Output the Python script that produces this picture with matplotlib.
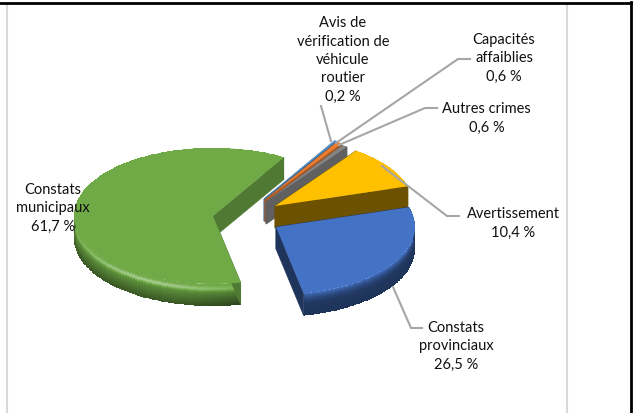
import numpy as np
import matplotlib
matplotlib.use('Agg')
import matplotlib.pyplot as plt
from matplotlib.colors import to_rgb

categories = ['Constats\nmunicipaux', 'Avis de\nvérification de\nvéhicule\nroutier',
              'Capacités\naffaiblies', 'Autres crimes', 'Avertissement',
              'Constats\nprovinciaux']
values = [61.7, 0.2, 0.6, 0.6, 10.4, 26.5]
colors = ['#6FAA47', '#5B9BD5', '#ED7D31', '#858585', '#FFC000', '#4472C4']

# layout in pixels
apex = [(213, 217), (264, 200), (265, 201), (266, 203), (275, 207), (276, 228)]
label_pos = [(53, 208), (343, 60), (504, 58), (486.5, 118.5), (513.5, 223.5), (456, 346.5)]
leaders = [None,
           [(321, 107), (331, 142)],
           [(470, 60), (458, 60), (336, 144)],
           [(437, 109), (425, 109), (339, 146)],
           [(459, 217), (447, 217), (382, 167)],
           [(422, 329), (411, 329), (393, 288)]]
start_angle = 281.5
rx, ry = 139, 68
depth = 22

# shade along the rim, top edge to bottom edge
rim_t = [0, 0.1, 0.25, 0.42, 0.6, 1]
rim_green = [1.0, 1.0, 1.0, 0.82, 0.72, 0.52]
rim_navy = [1.0, 0.8, 0.62, 0.5, 0.47, 0.45]
rim_amber = [0.85, 0.7, 0.55, 0.45, 0.42, 0.42]


def shade(col, f):
    c = np.array(to_rgb(col))
    if f <= 1:
        return c * f
    return c + (1 - c) * (f - 1)


def wedge_xy(cx, cy, a0, a1):
    t = np.radians(np.linspace(a0, a1, 160))
    x = np.r_[cx, cx + rx * np.cos(t)]
    y = np.r_[cy, cy - ry * np.sin(t)]
    return x, y


def draw_rim(ax, cx, cy, a0, a1, col):
    if col == '#6FAA47':
        prof = rim_green
    elif col == '#FFC000':
        prof = rim_amber
    else:
        prof = rim_navy
    ang = np.linspace(a0, a1, 161)
    ts = np.linspace(0, 1, depth * 2 + 1)
    X = cx + rx * np.cos(np.radians(ang))[None, :] * np.ones((len(ts), 1))
    Y = cy - ry * np.sin(np.radians(ang))[None, :] + depth * ts[:, None]
    C = np.zeros((len(ts) - 1, len(ang) - 1, 3))
    for i in range(len(ts) - 1):
        tm = (ts[i] + ts[i + 1]) / 2
        f = np.interp(tm, rim_t, prof)
        for j in range(len(ang) - 1):
            am = (ang[j] + ang[j + 1]) / 2 % 360
            g = f
            if col == '#6FAA47':
                # highlight peaks low on the left, rim darkens to the right
                glow = np.exp(-((am - 242) / 38.0) ** 2) * np.exp(-((tm - 0.22) / 0.09) ** 2)
                g = f * (1 - 0.28 * max(0, am - 255) / 30 * tm) + 0.38 * glow
            C[i, j] = np.clip(shade(col, g), 0, 1)
    ax.pcolormesh(X, Y, C, shading='flat', linewidth=0, antialiased=False)


def draw_slice(ax, cx, cy, a0, a1, col):
    draw_rim(ax, cx, cy, a0, a1, col)
    if col == '#FFC000':
        face = 0.42
    elif col == '#4472C4':
        face = 0.46
    else:
        face = 0.72
    for a in (a0, a1):
        xe = cx + rx * np.cos(np.radians(a))
        ye = cy - ry * np.sin(np.radians(a))
        ax.fill([cx, xe, xe, cx], [cy, ye, ye + depth, cy + depth],
                color=shade(col, face), lw=0.5)
    x, y = wedge_xy(cx, cy, a0, a1)
    ax.fill(x, y, color=col, lw=0)


fig = plt.figure(figsize=(6.36, 4.14), dpi=100)
ax = fig.add_axes([0, 0, 1, 1])
ax.set_xlim(0, 636)
ax.set_ylim(414, 0)
ax.axis('off')

# chart frame and page lines
ax.plot([7, 7], [5, 414], color='#D9D9D9', lw=1.5)
ax.plot([566.5, 566.5], [5, 414], color='#D9D9D9', lw=1.5)
ax.plot([0, 631], [4, 4], color='black', lw=2)
ax.plot([630.5, 630.5], [3, 414], color='black', lw=2)

# slices go clockwise from start_angle
ends = start_angle - np.cumsum(values) * 3.6
starts = np.r_[start_angle, ends[:-1]]
for i in [0, 1, 2, 3, 4, 5]:
    draw_slice(ax, apex[i][0], apex[i][1], ends[i], starts[i], colors[i])

for pts in leaders:
    if pts is not None:
        xs, ys = zip(*pts)
        ax.plot(xs, ys, color='#A6A6A6', lw=1.5)

for cat, val, pos in zip(categories, values, label_pos):
    txt = cat + '\n' + ('%.1f' % val).replace('.', ',') + ' %'
    ax.text(pos[0], pos[1], txt, ha='center', va='center', fontsize=10.5,
            family='Lato', color='#111111', linespacing=1.4)

fig.savefig('out.png', dpi=100)
